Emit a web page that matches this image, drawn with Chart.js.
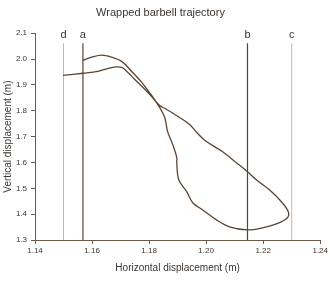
<!DOCTYPE html>
<html>
<head>
<meta charset="utf-8">
<script src="https://cdn.jsdelivr.net/npm/chart.js@4"></script>
<style>
html,body{margin:0;padding:0;background:#fff;}
#wrap{width:330px;height:282px;position:relative;}
</style>
</head>
<body>
<div id="wrap"><canvas id="c" width="330" height="282"></canvas></div>
<script>
// Trajectory (horizontal, vertical displacement in m)
const trajX = [1.1498,1.1568,1.1620,1.1645,1.1673,1.1704,1.1725,1.1750,1.1785,1.1809,
  1.1837,1.1862,1.1907,1.1942,1.1967,1.2001,1.2057,1.2106,1.2145,1.2176,1.2222,1.2267,1.2288,1.2285,
  1.2246,1.2197,1.2145,1.2082,1.2036,1.1987,1.1953,1.1932,1.1904,1.1897,1.1897,1.1883,1.1865,1.1855,1.1837,
  1.1809,1.1774,1.1739,1.1704,1.1669,1.1634,1.1599,1.1568];
const trajY = [1.937,1.945,1.952,1.960,1.968,1.968,1.949,1.921,1.883,1.855,
  1.820,1.805,1.774,1.747,1.716,1.681,1.642,1.599,1.564,1.533,1.494,1.444,1.409,1.386,
  1.362,1.347,1.339,1.351,1.378,1.417,1.444,1.487,1.533,1.599,1.619,1.669,1.719,1.774,1.813,
  1.859,1.910,1.952,1.991,2.007,2.015,2.007,1.995];
// Reference vertical markers
const markerNames = ['d','a','b','c'];
const markerX = [1.150, 1.1568, 1.2145, 1.230];
const markerDark = [false, true, true, false];
const markerLineTop = 2.061;
const markerLabelY = 2.095;
// Axis ticks
const xTicks = [1.14,1.16,1.18,1.20,1.22,1.24];
const yTicks = [1.3,1.4,1.5,1.6,1.7,1.8,1.9,2.0,2.1];

const DARK = '#5a4535';
const LIGHT = '#c9b8a6';
const AXIS = '#6e5a48';
const TEXT = '#3c3530';

const datasets = [];
markerNames.forEach((n,i)=>{
  datasets.push({
    label: n,
    data: [{x: markerX[i], y: yTicks[0]}, {x: markerX[i], y: markerLineTop}],
    showLine: true, pointRadius: 0, borderWidth: markerDark[i] ? 1.2 : 1,
    borderColor: markerDark[i] ? DARK : LIGHT, order: 2
  });
});
datasets.push({
  label: 'trajectory',
  data: trajX.map((x,i)=>({x, y: trajY[i]})),
  showLine: true, pointRadius: 0, borderWidth: 1.3, borderColor: DARK,
  tension: 0.35, order: 1
});

const markerLabels = {
  id: 'markerLabels',
  afterDatasetsDraw(chart){
    const ctx = chart.ctx, xs = chart.scales.x, ys = chart.scales.y;
    ctx.save();
    ctx.font = '11px "Liberation Sans", Arial, sans-serif';
    ctx.fillStyle = TEXT;
    ctx.textAlign = 'center';
    ctx.textBaseline = 'middle';
    markerNames.forEach((n,i)=>{
      ctx.fillText(n, xs.getPixelForValue(markerX[i]), ys.getPixelForValue(markerLabelY));
    });
    ctx.restore();
  }
};

new Chart(document.getElementById('c'), {
  type: 'scatter',
  data: { datasets },
  options: {
    responsive: false, animation: false,
    layout: { padding: { left: 0, right: 9, top: 0, bottom: 0 } },
    plugins: {
      legend: { display: false },
      tooltip: { enabled: false },
      title: {
        display: true, text: 'Wrapped barbell trajectory', color: TEXT,
        font: { family: '"Liberation Sans", Arial, sans-serif', size: 11, weight: 'normal' },
        padding: { top: 6, bottom: 14 }
      }
    },
    scales: {
      x: {
        type: 'linear', min: xTicks[0], max: xTicks[xTicks.length-1],
        afterBuildTicks(s){ s.ticks = xTicks.map(v=>({value:v})); },
        afterFit(s){ s.height = 42; },
        ticks: { color: TEXT, font: { family: '"Liberation Sans", Arial, sans-serif', size: 8 }, padding: 2,
          callback: v => v.toFixed(2), maxRotation: 0 },
        grid: { display: true, drawOnChartArea: false, drawTicks: true, tickLength: 4, color: AXIS },
        border: { display: true, color: AXIS, width: 1 },
        title: { display: true, text: 'Horizontal displacement (m)', color: TEXT,
          font: { family: '"Liberation Sans", Arial, sans-serif', size: 10 }, padding: { top: 4, bottom: 8 } }
      },
      y: {
        type: 'linear', min: yTicks[0], max: yTicks[yTicks.length-1],
        afterBuildTicks(s){ s.ticks = yTicks.map(v=>({value:v})); },
        afterFit(s){ s.width = 35; },
        ticks: { color: TEXT, font: { family: '"Liberation Sans", Arial, sans-serif', size: 8 }, padding: 4,
          callback: v => v.toFixed(1) },
        grid: { display: true, drawOnChartArea: false, drawTicks: true, tickLength: 4, color: AXIS },
        border: { display: true, color: AXIS, width: 1 },
        title: { display: true, text: 'Vertical displacement (m)', color: TEXT,
          font: { family: '"Liberation Sans", Arial, sans-serif', size: 10 }, padding: { top: 2, bottom: 2 } }
      }
    }
  },
  plugins: [markerLabels]
});
</script>
</body>
</html>
